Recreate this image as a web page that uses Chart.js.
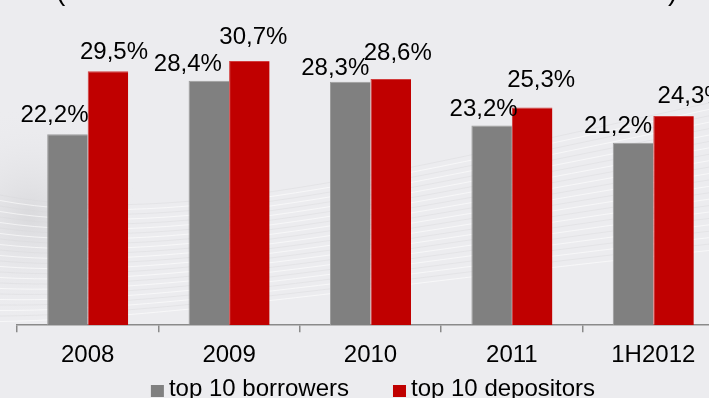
<!DOCTYPE html>
<html lang="en">
<head>
    <meta charset="UTF-8">
    <title>Top 10 borrowers and depositors</title>
    <script src="https://cdn.jsdelivr.net/npm/chart.js"></script>
    <style>
        body {
            margin: 0;
            width: 709px;
            height: 398px;
            overflow: hidden;
            background-color: #ececef;
        }
        #concChart {
            display: block;
        }
    </style>
</head>
<body>
    <canvas id="concChart" width="746" height="398"></canvas>

    <script>
        const periods = ['2008', '2009', '2010', '2011', '1H2012'];
        const borrowers = [22.2, 28.4, 28.3, 23.2, 21.2];
        const depositors = [29.5, 30.7, 28.6, 25.3, 24.3];

        const FONT = '"Liberation Sans", Arial, sans-serif';

        // small hand nudges so the value labels sit like the original slide
        const labelNudge = [
            [[-13, 12], [-21, 10], [-15, 7], [-8, 10], [-15, 10]],
            [[6, 12], [4, 17], [7, 19], [9, 20], [18, 13]]
        ];

        const slideBackground = {
            id: 'slideBackground',
            beforeDraw(chart) {
                const { ctx, width, height } = chart;
                ctx.save();
                ctx.fillStyle = '#ececef';
                ctx.fillRect(0, 0, width, height);
                // soft grey smudge on the left
                const g = ctx.createRadialGradient(30, 215, 5, 30, 215, 110);
                g.addColorStop(0, 'rgba(215,215,218,0.8)');
                g.addColorStop(1, 'rgba(236,236,239,0)');
                ctx.fillStyle = g;
                ctx.fillRect(0, 100, 200, 230);
                // faint swoosh lines in the backdrop
                ctx.lineWidth = 1;
                for (let i = 0; i < 24; i++) {
                    const o = i * 5.5;
                    ctx.strokeStyle = i % 2 ? 'rgba(255,255,255,0.6)' : 'rgba(214,214,218,0.4)';
                    ctx.beginPath();
                    ctx.moveTo(0, 195 + o);
                    ctx.bezierCurveTo(180, 230 + o * 0.7, 420, 165 + o * 0.9, 746, 95 + o * 1.2);
                    ctx.stroke();
                }
                ctx.restore();
            }
        };

        const headerParens = {
            id: 'headerParens',
            afterDraw(chart) {
                const { ctx } = chart;
                ctx.save();
                ctx.fillStyle = '#000';
                ctx.font = '28px ' + FONT;
                ctx.textBaseline = 'alphabetic';
                ctx.textAlign = 'left';
                ctx.fillText('(', 56, 0);
                ctx.fillText(')', 668, 0);
                ctx.restore();
            }
        };

        const valueLabels = {
            id: 'valueLabels',
            afterDatasetsDraw(chart) {
                const { ctx } = chart;
                ctx.save();
                ctx.fillStyle = '#000';
                ctx.font = '24px ' + FONT;
                ctx.textAlign = 'center';
                ctx.textBaseline = 'alphabetic';
                chart.data.datasets.forEach((ds, d) => {
                    chart.getDatasetMeta(d).data.forEach((bar, i) => {
                        const [dx, gap] = labelNudge[d][i];
                        const txt = ds.data[i].toFixed(1).replace('.', ',') + '%';
                        ctx.fillText(txt, bar.x + dx, bar.y - gap);
                    });
                });
                ctx.restore();
            }
        };

        // legend drawn by hand: tight box-to-text gap, wide gap between items
        const bottomLegend = {
            id: 'bottomLegend',
            afterDraw(chart) {
                const { ctx, width } = chart;
                const sets = chart.data.datasets;
                ctx.save();
                ctx.font = '24px ' + FONT;
                ctx.textBaseline = 'alphabetic';
                ctx.textAlign = 'left';
                const box = 13, gapText = 5, gapItem = 44;
                const widths = sets.map(s => box + gapText + ctx.measureText(s.label).width);
                const total = widths.reduce((a, b) => a + b, 0) + gapItem * (sets.length - 1);
                let x = width / 2 - total / 2;
                const base = 396;
                sets.forEach((s, i) => {
                    ctx.fillStyle = s.backgroundColor;
                    ctx.fillRect(x, base - 11, box, 12);
                    ctx.fillStyle = '#000';
                    ctx.fillText(s.label, x + box + gapText, base);
                    x += widths[i] + gapItem;
                });
                ctx.restore();
            }
        };

        const ctx = document.getElementById('concChart').getContext('2d');
        new Chart(ctx, {
            type: 'bar',
            data: {
                labels: periods,
                datasets: [{
                    label: 'top 10 borrowers',
                    data: borrowers,
                    backgroundColor: '#808080',
                    borderColor: '#9c9c9c',
                    borderWidth: { left: 1, right: 0, top: 1, bottom: 0 }
                }, {
                    label: 'top 10 depositors',
                    data: depositors,
                    backgroundColor: '#c00000',
                    borderColor: '#d23c3c',
                    borderWidth: { left: 1, right: 0, top: 1, bottom: 0 }
                }]
            },
            options: {
                responsive: false,
                animation: false,
                categoryPercentage: 0.573,
                barPercentage: 1,
                layout: {
                    padding: { left: 17, right: 22, top: 24, bottom: 19 }
                },
                scales: {
                    x: {
                        grid: {
                            display: true,
                            drawOnChartArea: false,
                            tickLength: 7,
                            color: '#8a8a8a',
                            lineWidth: 1.5
                        },
                        border: { color: '#8a8a8a', width: 1.5 },
                        ticks: {
                            color: '#000',
                            font: { family: FONT, size: 24 },
                            padding: 9
                        }
                    },
                    y: {
                        display: false,
                        min: 0,
                        max: 35
                    }
                },
                plugins: {
                    legend: { display: false },
                    tooltip: { enabled: false }
                }
            },
            plugins: [slideBackground, headerParens, valueLabels, bottomLegend]
        });
    </script>
</body>
</html>
